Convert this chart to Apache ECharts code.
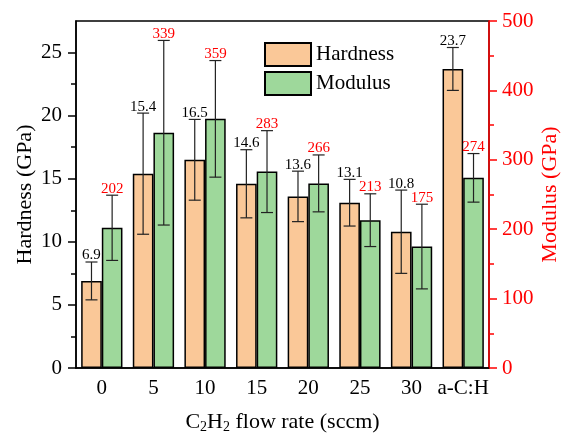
<!DOCTYPE html>
<html>
<head>
<meta charset="utf-8">
<script src="https://cdn.jsdelivr.net/npm/echarts@6/dist/echarts.min.js"></script>
<style>html,body{margin:0;padding:0;background:#fff;}#c{width:561px;height:434px;}</style>
</head>
<body>
<div id="c"></div>
<script>
var categories = ['0','5','10','15','20','25','30','a-C:H'];
var hardness = [6.9, 15.4, 16.5, 14.6, 13.6, 13.1, 10.8, 23.7];
var hardnessErr = [1.5, 4.8, 3.2, 2.7, 2.0, 1.85, 3.3, 1.7];
var modulus = [202, 339, 359, 283, 266, 213, 175, 274];
var modulusErr = [47, 133, 84, 59, 41, 38, 61, 35];
var leftTicks = [0, 5, 10, 15, 20, 25];
var leftMinor = [2.5, 7.5, 12.5, 17.5, 22.5];

var FONT = "'Liberation Serif','Times New Roman',serif";
var chart = echarts.init(document.getElementById('c'));

function errSeries(vals, errs, yIdx, offset, labelColor){
  return {
    type:'custom', yAxisIndex:yIdx, z:10, clip:false,
    encode:{x:0,y:1},
    data: vals.map(function(v,i){return [i, v, errs[i]];}),
    renderItem:function(params, api){
      var i=api.value(0), v=api.value(1), e=api.value(2);
      var top=api.coord([i, v+e]), bot=api.coord([i, v-e]);
      var band=api.size([1,0])[0];
      var x=top[0]+offset*band;
      var cap=6;
      var ls={stroke:'#222', lineWidth:1.2};
      return {type:'group', children:[
        {type:'line', shape:{x1:x,y1:top[1],x2:x,y2:bot[1]}, style:ls},
        {type:'line', shape:{x1:x-cap,y1:top[1],x2:x+cap,y2:top[1]}, style:ls},
        {type:'line', shape:{x1:x-cap,y1:bot[1],x2:x+cap,y2:bot[1]}, style:ls},
        {type:'text', style:{text:String(vals[params.dataIndex]), x:x, y:top[1]+1,
          align:'center', verticalAlign:'bottom',
          fill:labelColor, fontSize:15, fontFamily:FONT}}
      ]};
    }
  };
}

chart.setOption({
  animation:false,
  textStyle:{fontFamily:FONT},
  grid:{left:76, right:72, top:21, bottom:66, outerBoundsMode:'none', containLabel:false,
    show:true, borderColor:'#000', borderWidth:1.5, backgroundColor:'transparent'},
  legend:{
    data:['Hardness','Modulus'], orient:'vertical', left:259, top:37,
    itemWidth:46, itemHeight:23, itemGap:4, icon:'rect',
    textStyle:{fontSize:21, color:'#000', fontFamily:FONT}
  },
  xAxis:{
    type:'category', data:categories, boundaryGap:true,
    axisLine:{lineStyle:{color:'#000', width:1.5}},
    axisTick:{alignWithLabel:true, interval:0, length:7, lineStyle:{color:'#000', width:1.5}},
    axisLabel:{interval:0, fontSize:21, color:'#000', margin:10, fontFamily:FONT},
    name:'C{sub|2}H{sub|2} flow rate (sccm)', nameLocation:'middle', nameGap:42, nameMoveOverlap:false,
    nameTextStyle:{fontSize:22, color:'#000', fontFamily:FONT,
      rich:{sub:{fontSize:14, verticalAlign:'bottom', padding:[10,0,0,0], fontFamily:FONT, color:'#000'}}}
  },
  yAxis:[
    {
      type:'value', min:0, max:27.5, position:'left',
      axisLine:{show:true, lineStyle:{color:'#000', width:1.5}},
      axisTick:{show:true, inside:false, length:8, customValues:leftTicks, lineStyle:{color:'#000', width:1.5}},
      axisLabel:{fontSize:21, color:'#000', margin:14, customValues:leftTicks, fontFamily:FONT},
      splitLine:{show:false},
      name:'Hardness (GPa)', nameLocation:'middle', nameGap:40, nameMoveOverlap:false,
      nameTextStyle:{fontSize:22, color:'#000', fontFamily:FONT}
    },
    {
      type:'value', min:0, max:500, interval:100, position:'right',
      axisLine:{show:true, lineStyle:{color:'#ff0000', width:1.5}},
      axisTick:{show:true, inside:false, length:8, lineStyle:{color:'#ff0000', width:1.5}},
      minorTick:{show:true, splitNumber:2, length:5, lineStyle:{color:'#ff0000', width:1.5}},
      axisLabel:{fontSize:21, color:'#ff0000', margin:13, fontFamily:FONT},
      splitLine:{show:false},
      name:'Modulus (GPa)', nameLocation:'middle', nameGap:50, nameRotate:90, nameMoveOverlap:false,
      nameTextStyle:{fontSize:22, color:'#ff0000', fontFamily:FONT}
    },
    {
      type:'value', min:0, max:27.5, position:'left',
      axisLine:{show:false},
      axisTick:{show:true, inside:false, length:5, customValues:leftMinor, lineStyle:{color:'#000', width:1.5}},
      axisLabel:{show:false}, splitLine:{show:false}
    }
  ],
  series:[
    {name:'Hardness', type:'bar', yAxisIndex:0, data:hardness, barWidth:'40%', barGap:'0%',
      itemStyle:{color:'#FAC898', borderColor:'#000', borderWidth:1.5}},
    {name:'Modulus', type:'bar', yAxisIndex:1, data:modulus, barWidth:'40%', barGap:'0%',
      itemStyle:{color:'#9ED89B', borderColor:'#000', borderWidth:1.5}},
    errSeries(hardness, hardnessErr, 0, -0.2, '#000'),
    errSeries(modulus, modulusErr, 1, 0.2, '#ff0000')
  ]
});
</script>
</body>
</html>
